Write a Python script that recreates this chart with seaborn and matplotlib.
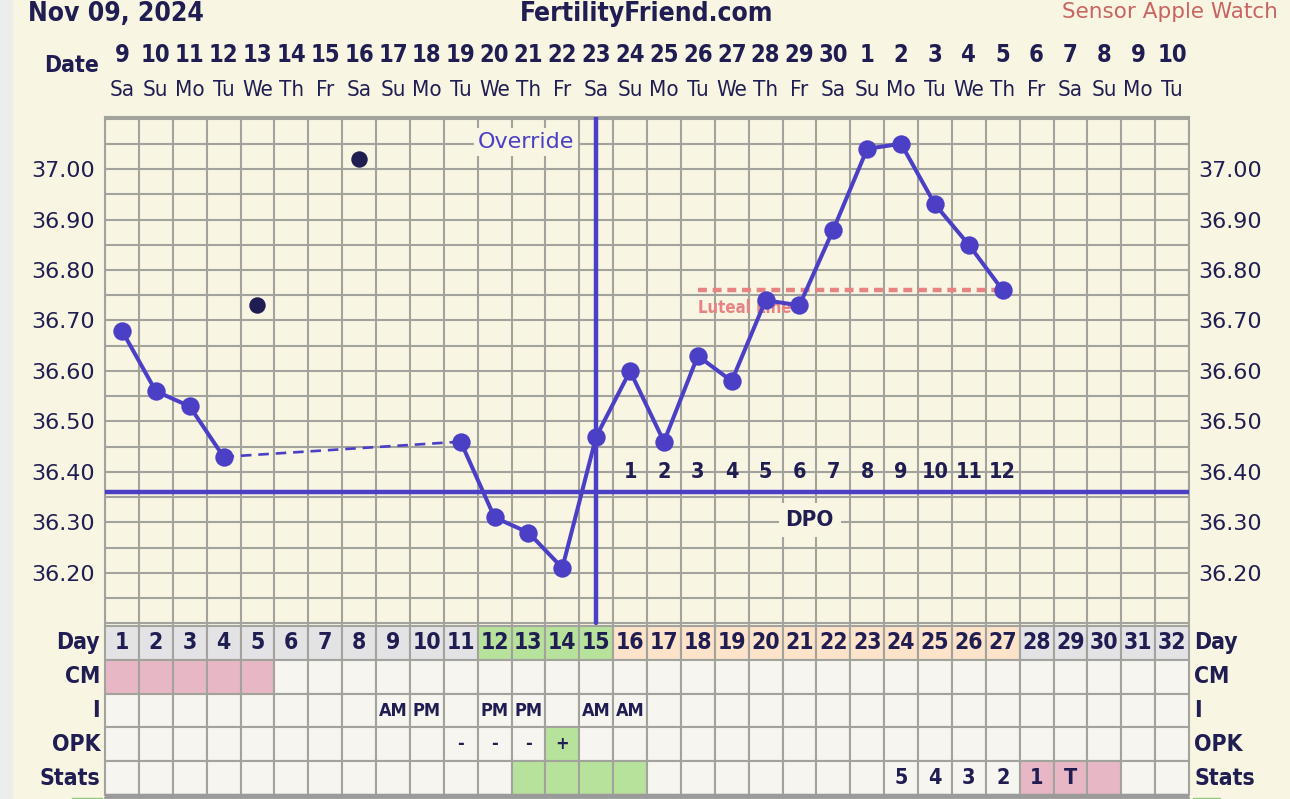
"""
plot.py
Fertility chart (BBT) - recreated with seaborn / matplotlib
"""

import os
import numpy as np
import pandas as pd
import matplotlib
matplotlib.use("Agg")
import matplotlib.pyplot as plt
import seaborn as sns
from matplotlib import font_manager as fm
from matplotlib.patches import Rectangle
from matplotlib.transforms import blended_transform_factory

# ─────────────────────────────────────────────
# Data
# ─────────────────────────────────────────────
CHART_DATE = "Nov 09, 2024"
SITE_NAME  = "FertilityFriend.com"
SENSOR     = "Sensor Apple Watch"

CYCLE_DAYS  = list(range(1, 33))
DATE_LABELS = ["9", "10", "11", "12", "13", "14", "15", "16", "17", "18", "19",
               "20", "21", "22", "23", "24", "25", "26", "27", "28", "29", "30",
               "1", "2", "3", "4", "5", "6", "7", "8", "9", "10"]
WEEKDAYS    = ["Sa", "Su", "Mo", "Tu", "We", "Th", "Fr",
               "Sa", "Su", "Mo", "Tu", "We", "Th", "Fr",
               "Sa", "Su", "Mo", "Tu", "We", "Th", "Fr",
               "Sa", "Su", "Mo", "Tu", "We", "Th", "Fr",
               "Sa", "Su", "Mo", "Tu"]

# temperatures (°C) per cycle day, None = no reading / not charted
TEMPS = [36.68, 36.56, 36.53, 36.43, None, None, None, None, None, None,
         36.46, 36.31, 36.28, 36.21, 36.47, 36.60, 36.46, 36.63, 36.58, 36.74,
         36.73, 36.88, 37.04, 37.05, 36.93, 36.85, 36.76, None, None, None,
         None, None]
DISCARD_DAYS  = [5, 8]
DISCARD_TEMPS = [36.73, 37.02]
GAP_DAYS      = [4, 11]          # joined with dashed line

COVERLINE     = 36.36
OVULATION_DAY = 15
LUTEAL_DAYS   = [18, 27]
LUTEAL_TEMP   = 36.76
DPO_DAYS      = [16, 17, 18, 19, 20, 21, 22, 23, 24, 25, 26, 27]
DPO_LABELS    = ["1", "2", "3", "4", "5", "6", "7", "8", "9", "10", "11", "12"]

Y_TICKS  = [36.20, 36.30, 36.40, 36.50, 36.60, 36.70, 36.80, 36.90, 37.00]

DAY_PHASE = ["grey"] * 11 + ["green"] * 4 + ["peach"] * 12 + ["grey"] * 5
CM_DAYS   = [1, 2, 3, 4, 5]
INTERCOURSE = {9: "AM", 10: "PM", 12: "PM", 13: "PM", 15: "AM", 16: "AM"}
OPK         = {11: "-", 12: "-", 13: "-", 14: "+"}
OPK_POS     = [14]
STATS_GREEN = [13, 14, 15, 16]
STATS_PINK  = [28, 29, 30]
STATS_TEXT  = {24: "5", 25: "4", 26: "3", 27: "2", 28: "1", 29: "T"}
ROW_NAMES   = ["Day", "CM", "I", "OPK", "Stats"]

# ─────────────────────────────────────────────
# Style
# ─────────────────────────────────────────────
CREAM  = "#F8F5E2"
WHITE  = "#F6F5EF"
GRID   = "#A3A39E"
BLUE   = "#4B3FC6"
NAVY   = "#201D52"
SALMON = "#E88383"
PHASE_COL = {"grey": "#E3E3E6", "green": "#B7E29C", "peach": "#FCE3CA"}
PINK   = "#E8B7C6"
GREEN  = "#B7E29C"

sns.set_theme(style="white")
plt.rcParams["font.family"] = ["DejaVu Sans"]


def _find(names):
    files = {os.path.basename(f.fname): f.fname for f in fm.fontManager.ttflist}
    for n in names:
        if n in files:
            return files[n]
    return None


COND_BOLD = _find(["DejaVuSansCondensed-Bold.ttf", "LiberationSansNarrow-Bold.ttf",
                   "RobotoCondensed-Bold.ttf"])
COND_REG  = _find(["DejaVuSansCondensed.ttf", "LiberationSansNarrow-Regular.ttf",
                   "RobotoCondensed-Regular.ttf"])


def cfont(size, bold=True):
    path = COND_BOLD if bold else COND_REG
    if path:
        return fm.FontProperties(fname=path, size=size)
    return fm.FontProperties(family="DejaVu Sans", size=size * 0.9,
                             weight="bold" if bold else "normal")


W, H = 1290, 799
fig = plt.figure(figsize=(W / 100, H / 100), dpi=100, facecolor=CREAM)
fig.patches.append(Rectangle((0, 0), 12 / W, 1, transform=fig.transFigure,
                             color="#EDEDED", zorder=0))

# ─────────────────────────────────────────────
# Temperature chart
# ─────────────────────────────────────────────
ax = fig.add_axes([105 / W, 1 - 626 / H, 1084 / W, (626 - 117) / H])
ax.set_facecolor(CREAM)
ax.set_xlim(0.5, 32.5)
ax.set_ylim(36.095, 37.103)
ax.set_xticks(np.arange(0.5, 33, 1))
ax.set_yticks(Y_TICKS)
ax.set_yticks(np.arange(36.10, 37.11, 0.05), minor=True)
ax.set_yticklabels([f"{t:.2f}" for t in Y_TICKS])
ax.grid(which="both", color=GRID, lw=1.5, zorder=0)
ax.tick_params(which="both", length=0, labelbottom=False, labelleft=True,
               labelright=True, labelsize=16, labelcolor=NAVY, pad=7)
for s in ["left", "right", "top"]:
    ax.spines[s].set_color(GRID)
    ax.spines[s].set_linewidth(1.5)
ax.spines["bottom"].set_visible(False)

# coverline + override line
ax.axhline(COVERLINE, color=BLUE, lw=3.2, zorder=3)
ax.axvline(OVULATION_DAY, ymin=0.006, color=BLUE, lw=3.2, zorder=3)

# luteal line
ax.plot(LUTEAL_DAYS, [LUTEAL_TEMP] * 2, color=SALMON, lw=3.2,
        ls=(0, (2.0, 1.3)), zorder=3)
ax.text(LUTEAL_DAYS[0], LUTEAL_TEMP - 0.035, "Luteal Line", color=SALMON,
        fontproperties=cfont(12), ha="left", va="center", zorder=3)

# temperatures
df = pd.DataFrame({"day": CYCLE_DAYS, "temp": TEMPS}).dropna()
df["seg"] = (df["day"] > GAP_DAYS[0]).astype(int)
sns.lineplot(data=df, x="day", y="temp", units="seg", estimator=None,
             color=BLUE, lw=2.9, ax=ax, zorder=4, legend=False)
sns.scatterplot(data=df, x="day", y="temp", s=175, color=BLUE, linewidth=0,
                ax=ax, zorder=5, legend=False)
gap = df.set_index("day").loc[GAP_DAYS, "temp"]
ax.plot(GAP_DAYS, gap.values, color=BLUE, lw=1.9, ls=(0, (4, 2.6)), zorder=4)
sns.scatterplot(x=DISCARD_DAYS, y=DISCARD_TEMPS, s=140, color=NAVY,
                linewidth=0, ax=ax, zorder=5, legend=False)
ax.set_xlabel("")
ax.set_ylabel("")

# annotations
ax.text(OVULATION_DAY - 2.07, 37.053, "Override", color=BLUE, fontsize=16,
        ha="center", va="center", zorder=6,
        bbox=dict(facecolor=CREAM, edgecolor="none", pad=3))
for d, lab in zip(DPO_DAYS, DPO_LABELS):
    ax.text(d, COVERLINE + 0.04, lab, color=NAVY, fontproperties=cfont(15.5),
            ha="center", va="center", zorder=6)
ax.text(21.3, 36.305, "DPO", color=NAVY, fontproperties=cfont(16),
        ha="center", va="center", zorder=6,
        bbox=dict(facecolor=CREAM, edgecolor="none", pad=5))

# ─────────────────────────────────────────────
# Header
# ─────────────────────────────────────────────
fig.text(28 / W, 1 - 14 / H, CHART_DATE, color=NAVY, fontproperties=cfont(19),
         ha="left", va="center")
fig.text(647 / W, 1 - 14 / H, SITE_NAME, color=NAVY, fontproperties=cfont(19),
         ha="center", va="center")
fig.text(1278 / W, 1 - 12 / H, SENSOR, color="#C96560", fontsize=15.5,
         ha="right", va="center")
fig.text(72 / W, 1 - 65 / H, "Date", color=NAVY, fontproperties=cfont(16.5),
         ha="center", va="center")
tr = blended_transform_factory(ax.transData, fig.transFigure)
for d, lab, wd in zip(CYCLE_DAYS, DATE_LABELS, WEEKDAYS):
    ax.text(d, 1 - 55 / H, lab, transform=tr, color=NAVY,
            fontproperties=cfont(17), ha="center", va="center")
    ax.text(d, 1 - 90 / H, wd, transform=tr, color=NAVY,
            fontproperties=cfont(16, bold=False), ha="center", va="center")

# ─────────────────────────────────────────────
# Table below chart
# ─────────────────────────────────────────────
ROW_PX = 33.8
tax = fig.add_axes([105 / W, 0, 1084 / W, 173 / H])
tax.set_xlim(0.5, 32.5)
tax.set_ylim(173 / ROW_PX, 0)
tax.axis("off")

row_colours = [
    [PHASE_COL[p] for p in DAY_PHASE],
    [PINK if d in CM_DAYS else WHITE for d in CYCLE_DAYS],
    [WHITE for d in CYCLE_DAYS],
    [GREEN if d in OPK_POS else WHITE for d in CYCLE_DAYS],
    [GREEN if d in STATS_GREEN else PINK if d in STATS_PINK else WHITE
     for d in CYCLE_DAYS],
]
for i, cols in enumerate(row_colours):
    tax.bar(CYCLE_DAYS, 1, bottom=i, width=1, color=cols, edgecolor=GRID,
            linewidth=1.5, clip_on=False)
# next (cut off) row
tax.bar(CYCLE_DAYS, 1, bottom=5.08, width=1,
        color=["#8DC97B" if d == 24 else WHITE for d in CYCLE_DAYS],
        edgecolor=GRID, linewidth=1.5, clip_on=False)
tax.plot([0.5, 32.5], [5.02, 5.02], color="#9B9B9B", lw=3.2, clip_on=False,
         solid_capstyle="butt")
px = 1 / 33.875
tax.add_patch(Rectangle((0.5 - 33 * px, 5.1), 30 * px, 1, color="#8DC97B",
                        clip_on=False))
tax.add_patch(Rectangle((32.5 + 4 * px, 5.1), 27 * px, 1, color="#8DC97B",
                        clip_on=False))

for i, name in enumerate(ROW_NAMES):
    tax.text(0.5 - 5 * px, i + 0.5, name, color=NAVY, fontproperties=cfont(16.5),
             ha="right", va="center", clip_on=False)
    tax.text(32.5 + 5 * px, i + 0.5, name, color=NAVY, fontproperties=cfont(16.5),
             ha="left", va="center", clip_on=False)

for d in CYCLE_DAYS:
    tax.text(d, 0.5, str(d), color=NAVY, fontproperties=cfont(16.5),
             ha="center", va="center")
for d, lab in INTERCOURSE.items():
    tax.text(d, 2.5, lab, color=NAVY, fontproperties=cfont(13),
             ha="center", va="center")
for d, lab in OPK.items():
    tax.text(d, 3.5, lab, color=NAVY, fontproperties=cfont(13),
             ha="center", va="center")
for d, lab in STATS_TEXT.items():
    tax.text(d, 4.5, lab, color=NAVY, fontproperties=cfont(15.5),
             ha="center", va="center")

fig.savefig("out.png", dpi=100, facecolor=CREAM)
